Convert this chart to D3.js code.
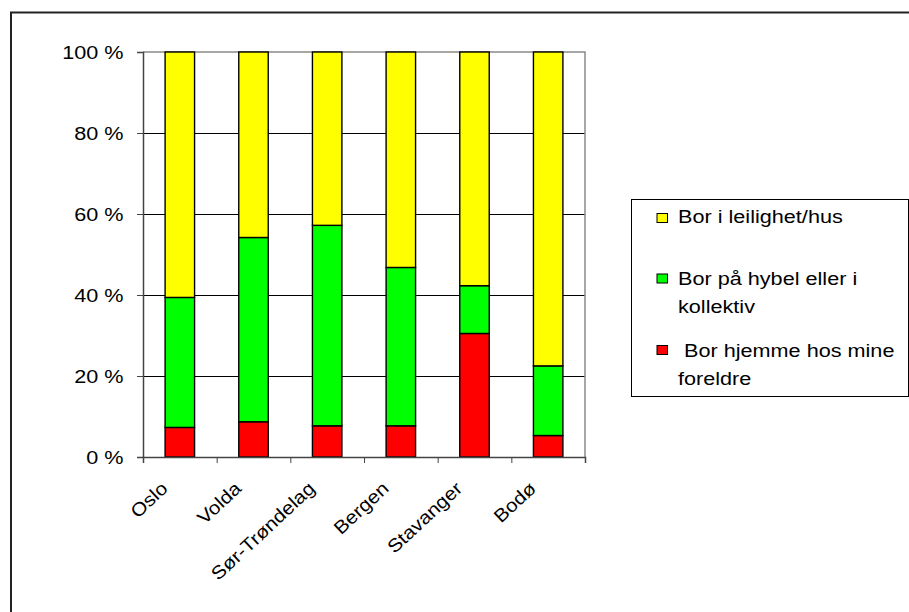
<!DOCTYPE html>
<html>
<head>
<meta charset="utf-8">
<script src="https://cdn.jsdelivr.net/npm/d3@7"></script>
<style>
  html, body { margin: 0; padding: 0; background: #fff; }
  svg { display: block; }
  text { font-family: "Liberation Sans", Arial, sans-serif; fill: #000; }
</style>
</head>
<body>
<svg id="chart" width="909" height="612"></svg>
<script>
// ---------- data ----------
const categories = ["Oslo", "Volda", "Sør-Trøndelag", "Bergen", "Stavanger", "Bodø"];
const hjemme    = [7.3, 8.7, 7.7, 7.7, 30.5, 5.3];     // Bor hjemme hos mine foreldre
const hybel     = [32.1, 45.5, 49.5, 39.1, 11.8, 17.2]; // Bor på hybel eller i kollektiv
const leilighet = [60.6, 45.8, 42.8, 53.2, 57.7, 77.5]; // Bor i leilighet/hus
const seriesKeys = ["hjemme", "hybel", "leilighet"];
const seriesColors = ["#FF0000", "#00FF00", "#FFFF00"];
const yTicks = [0, 20, 40, 60, 80, 100];
const legendItems = [
  { color: "#FFFF00", lines: ["Bor i leilighet/hus"] },
  { color: "#00FF00", lines: ["Bor på hybel eller i", "kollektiv"] },
  { color: "#FF0000", lines: [" Bor hjemme hos mine", "foreldre"] }
];

// ---------- layout ----------
const svg = d3.select("#chart");
const X0 = 143, X1 = 585, Y0 = 457, Y1 = 52;
const STRETCH = "scale(1.17,1)";
const FS = 18.5;

const rows = categories.map((c, i) => ({ cat: c, hjemme: hjemme[i], hybel: hybel[i], leilighet: leilighet[i] }));
const stacked = d3.stack().keys(seriesKeys)(rows);

const y = d3.scaleLinear().domain([0, 100]).range([Y0, Y1]);
const xBand = d3.scaleBand().domain(categories).range([X0, X1]).paddingInner(0.6).paddingOuter(0.3);
const xLab = d3.scaleBand().domain(categories).range([X0, X1]).padding(0);
const xLin = d3.scaleLinear().domain([0, categories.length]).range([X0, X1]);

// outer frame
svg.append("rect").attr("x", 11).attr("y", 12.5).attr("width", 1000).attr("height", 700)
  .attr("fill", "none").attr("stroke", "#222").attr("stroke-width", 2);

// gridlines
svg.append("g").selectAll("line").data(yTicks.filter(d => d > 0 && d < 100)).join("line")
  .attr("x1", X0).attr("x2", X1)
  .attr("y1", d => Math.round(y(d)) + 0.5).attr("y2", d => Math.round(y(d)) + 0.5)
  .attr("stroke", "#000").attr("stroke-width", 1);

// plot border top/right (gray)
svg.append("path")
  .attr("d", `M${X0},${y(100)}H${X1}V${Y0}`)
  .attr("fill", "none").attr("stroke", "#8a8a8a").attr("stroke-width", 1.5);

// bars
svg.append("g").selectAll("g").data(stacked).join("g")
  .attr("fill", (d, i) => seriesColors[i])
  .selectAll("rect").data(d => d).join("rect")
  .attr("x", d => xBand(d.data.cat))
  .attr("width", xBand.bandwidth())
  .attr("y", d => y(d[1]))
  .attr("height", d => y(d[0]) - y(d[1]))
  .attr("stroke", "#000").attr("stroke-width", 1.4);

// y axis
const yAxis = svg.append("g").attr("transform", `translate(${X0},0)`)
  .call(d3.axisLeft(y).tickValues(yTicks).tickSize(6).tickFormat(d => d + " %"));
yAxis.attr("font-size", null).attr("font-family", null);
yAxis.select(".domain").attr("stroke", "#444").attr("stroke-width", 1.5);
yAxis.selectAll(".tick line").attr("stroke", "#444");
yAxis.selectAll("text")
  .attr("x", null).attr("dy", "0.36em")
  .attr("transform", `translate(-19.5,0) ${STRETCH}`)
  .style("font-size", FS + "px");

// x axis ticks at category boundaries
const xTickAxis = svg.append("g").attr("transform", `translate(0,${Y0})`)
  .call(d3.axisBottom(xLin).tickValues(d3.range(categories.length + 1)).tickSize(6).tickFormat(""));
xTickAxis.select(".domain").attr("stroke", "#444").attr("stroke-width", 1.5);
xTickAxis.selectAll(".tick line").attr("stroke", "#444");

// x labels
const xLabAxis = svg.append("g").attr("transform", `translate(0,${Y0})`)
  .call(d3.axisBottom(xLab).tickSize(0));
xLabAxis.attr("font-size", null).attr("font-family", null);
xLabAxis.select(".domain").remove();
xLabAxis.selectAll("text")
  .attr("y", null).attr("dy", null)
  .attr("text-anchor", "end")
  .attr("transform", "translate(-11,33) rotate(-43) scale(1.12,1)")
  .style("font-size", FS + "px");

// legend
const lg = svg.append("g");
lg.append("rect").attr("x", 631.5).attr("y", 199.5).attr("width", 277).attr("height", 197)
  .attr("fill", "#fff").attr("stroke", "#000").attr("stroke-width", 1);
const itemTop = [213.5, 274, 345.5];
const lineBase = [[223], [285, 313], [357, 385]];
legendItems.forEach((it, i) => {
  lg.append("rect").attr("x", 657).attr("y", itemTop[i]).attr("width", 10.5).attr("height", 9)
    .attr("fill", it.color).attr("stroke", "#000").attr("stroke-width", 1);
  it.lines.forEach((ln, j) => {
    lg.append("text")
      .attr("transform", `translate(678,${lineBase[i][j]}) ${STRETCH}`)
      .style("font-size", FS + "px")
      .style("white-space", "pre")
      .text(ln);
  });
});
</script>
</body>
</html>
